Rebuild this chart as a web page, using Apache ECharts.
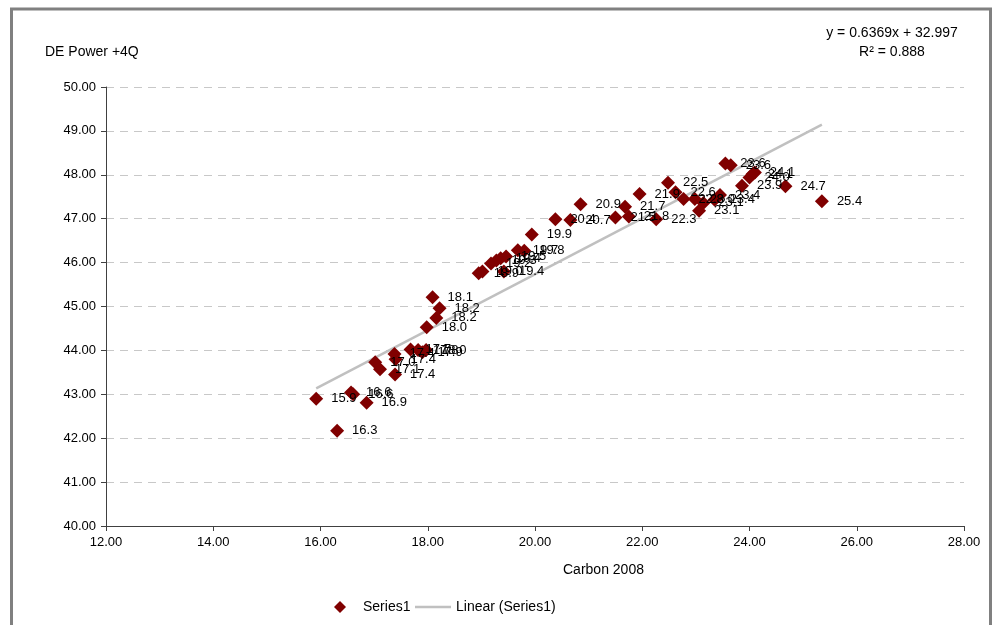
<!DOCTYPE html>
<html><head><meta charset="utf-8">
<script src="https://cdn.jsdelivr.net/npm/echarts@6/dist/echarts.min.js"></script>
<style>html,body{margin:0;padding:0;background:#fff}#c{width:996px;height:625px}</style>
</head><body><div id="c"></div>
<script>
// Carbon 2008 (x) values
const carbonX = [15.92,16.31,16.57,16.61,16.86,17.02,17.11,17.38,17.40,17.39,17.68,17.82,17.90,17.97,17.98,18.09,18.16,18.22,
  18.95,19.02,19.18,19.28,19.36,19.42,19.46,19.68,19.80,19.94,20.38,20.66,20.85,21.50,21.68,21.75,21.95,22.26,22.48,22.62,
  22.77,22.98,23.06,23.14,23.35,23.45,23.55,23.65,23.86,24.00,24.06,24.10,24.67,25.35];
// DE Power +4Q (y) values
const powerY = [42.90,42.17,43.04,43.00,42.81,43.73,43.57,43.92,43.80,43.45,44.02,44.01,43.96,44.01,44.53,45.21,44.74,44.96,
  45.76,45.80,45.98,46.05,46.10,45.80,46.14,46.28,46.27,46.64,46.99,46.97,47.33,47.03,47.27,47.05,47.56,46.99,47.82,47.60,
  47.45,47.45,47.18,47.36,47.43,47.54,48.26,48.22,47.75,47.94,48.02,48.05,47.74,47.40];
const trendSlope = 0.6369;
const trendIntercept = 32.997;
const rSquared = 0.888;
const yTicks = [40,41,42,43,44,45,46,47,48,49,50];
const xTicks = [12,14,16,18,20,22,24,26,28];

const points = carbonX.map((x,i)=>[x,powerY[i]]);
const xmin = Math.min(...carbonX), xmax = Math.max(...carbonX);
const trend = [[xmin, trendSlope*xmin+trendIntercept],[xmax, trendSlope*xmax+trendIntercept]];
const font = 'Liberation Sans, Arial, Helvetica, sans-serif';

const chart = echarts.init(document.getElementById('c'), null, {renderer:'canvas'});
chart.setOption({
  animation:false,
  backgroundColor:'#fff',
  textStyle:{fontFamily:font},
  grid:{left:106,right:32,top:87,bottom:99},
  xAxis:{type:'value',min:xTicks[0],max:xTicks[xTicks.length-1],interval:2,
    axisLine:{lineStyle:{color:'#404040',width:1}},
    axisTick:{length:5,lineStyle:{color:'#404040'}},
    axisLabel:{color:'#000',fontSize:13,fontFamily:font,margin:10,formatter:v=>v.toFixed(2)},
    splitLine:{show:false}},
  yAxis:{type:'value',min:yTicks[0],max:yTicks[yTicks.length-1],interval:1,
    axisLine:{show:true,lineStyle:{color:'#404040',width:1}},
    axisTick:{show:true,length:5,lineStyle:{color:'#404040'}},
    axisLabel:{color:'#000',fontSize:13,fontFamily:font,margin:10,formatter:v=>v.toFixed(2)},
    splitLine:{show:true,lineStyle:{color:'#c8c8c8',type:[8,6],width:1}}},
  legend:[
    {data:[{name:'Series1',icon:'diamond'}],left:329,top:595,itemWidth:12,itemHeight:12,itemGap:6,
     textStyle:{fontSize:14,color:'#000',fontFamily:font,padding:[0,0,0,12]}},
    {data:[{name:'Linear (Series1)',icon:'rect'}],left:410,top:595,itemWidth:36,itemHeight:2.5,itemGap:5,
     textStyle:{fontSize:14,color:'#000',fontFamily:font}}
  ],
  graphic:[
    {type:'rect',shape:{x:11.5,y:9,width:979,height:640},style:{fill:'none',stroke:'#808080',lineWidth:3},silent:true,z:-1},
    {type:'text',left:45,top:45,style:{text:'DE Power +4Q',fontSize:14,fill:'#000',fontFamily:font}},
    {type:'text',left:563,top:563,style:{text:'Carbon 2008',fontSize:14,fill:'#000',fontFamily:font}},
    {type:'text',x:892,y:33,style:{text:'y = '+trendSlope+'x + '+trendIntercept,fontSize:14,fill:'#000',fontFamily:font,align:'center',verticalAlign:'middle'}},
    {type:'text',x:892,y:52,style:{text:'R\u00B2 = '+rSquared.toFixed(3),fontSize:14,fill:'#000',fontFamily:font,align:'center',verticalAlign:'middle'}}
  ],
  series:[
    {name:'Series1',type:'scatter',symbol:'diamond',symbolSize:14,data:points,
     itemStyle:{color:'#800000',opacity:1},z:3,
     label:{show:true,position:'right',distance:8,color:'#000',fontSize:13,fontFamily:font,
       formatter:p=>p.value[0].toFixed(1)},
     labelLayout:{hideOverlap:false}},
    {name:'Linear (Series1)',type:'line',data:trend,showSymbol:false,symbol:'none',
     lineStyle:{color:'#c0c0c0',width:2.5},itemStyle:{color:'#c0c0c0'},z:2}
  ]
});
</script></body></html>
